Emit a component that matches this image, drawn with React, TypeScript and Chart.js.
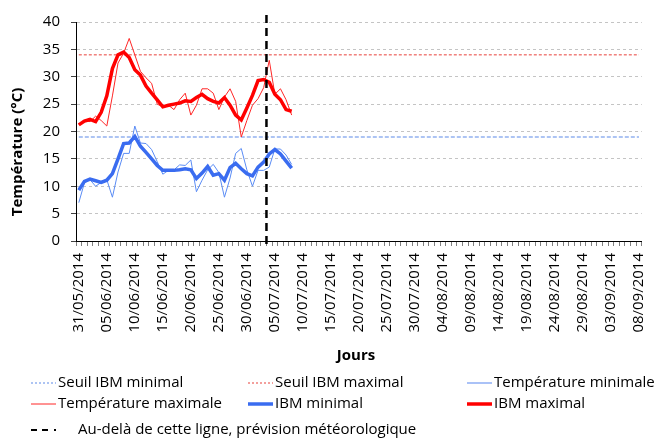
import { useEffect, useRef } from 'react';
import { Chart, registerables } from 'chart.js';

Chart.register(...registerables);

const FONT = "'Open Sans', 'Noto Sans', sans-serif";

// Categories: one per day from 31/05/2014 to 08/09/2014
const FIRST_DAY = '2014-05-31';
const DAY_COUNT = 101;
function makeDayLabels(): string[] {
  const out: string[] = [];
  const d = new Date(FIRST_DAY + 'T12:00:00Z');
  for (let i = 0; i < DAY_COUNT; i++) {
    const dd = String(d.getUTCDate()).padStart(2, '0');
    const mm = String(d.getUTCMonth() + 1).padStart(2, '0');
    out.push(`${dd}/${mm}/${d.getUTCFullYear()}`);
    d.setUTCDate(d.getUTCDate() + 1);
  }
  return out;
}
const DAYS = makeDayLabels();
const LABEL_EVERY = 5;

// Series values (°C), 31/05/2014 -> 08/07/2014
const TEMP_MAX = [
  21.3, 22.0, 21.8, 22.8, 22.0, 21.0, 26.5, 32.5, 34.3, 37.0,
  34.0, 31.0, 29.8, 28.8, 25.0, 24.5, 24.8, 24.0, 25.8, 27.0,
  23.0, 24.8, 27.8, 27.8, 27.0, 24.0, 26.3, 27.8, 25.5, 19.0,
  22.0, 24.8, 26.0, 28.0, 33.0, 26.8, 27.8, 25.8, 23.0,
];
const IBM_MAX = [
  21.2, 21.9, 22.2, 21.8, 23.5, 26.5, 31.5, 34.0, 34.5, 33.5,
  31.3, 30.3, 28.3, 27.0, 25.8, 24.5, 24.8, 25.0, 25.2, 25.6,
  25.5, 26.2, 26.8, 26.0, 25.5, 25.2, 26.2, 24.8, 23.0, 22.1,
  24.3, 26.6, 29.3, 29.5, 29.0, 26.8, 25.8, 24.0, 23.7,
];
const TEMP_MIN = [
  7.0, 10.6, 11.2, 10.0, 10.7, 11.2, 8.0, 12.6, 16.0, 16.0,
  21.0, 17.9, 17.8, 16.7, 14.5, 12.2, 12.9, 13.0, 13.9, 13.8,
  14.8, 9.0, 11.1, 13.0, 14.0, 12.5, 8.0, 11.5, 16.0, 16.9,
  13.0, 10.0, 12.9, 12.9, 13.5, 16.8, 16.8, 15.7, 14.0,
];
const IBM_MIN = [
  9.3, 10.9, 11.3, 11.0, 10.7, 11.1, 12.3, 15.0, 17.8, 17.9,
  19.1, 17.3, 16.2, 15.0, 13.8, 12.9, 12.9, 12.9, 13.0, 13.2,
  13.0, 11.4, 12.4, 13.6, 12.0, 12.3, 11.1, 13.4, 14.2, 13.2,
  12.3, 11.9, 13.5, 14.4, 15.9, 16.7, 15.9, 14.6, 13.3,
];
const SEUIL_MIN = 19;
const SEUIL_MAX = 34;
const FORECAST_FROM = '04/07/2014';

const Y_MIN = 0;
const Y_MAX = 40;
const Y_STEP = 5;

const C_SEUIL_MIN = '#92b1f0';
const C_SEUIL_MAX = '#e8403a';
const C_TMIN = '#5a8cf5';
const C_TMAX = '#ff2626';
const C_IBM_MIN = '#3a6cf0';
const C_IBM_MAX = '#ff0000';

type LegendItem = { label: string; color: string; width: number; dash: number[]; x: number; y: number };
const LEGEND: LegendItem[] = [
  { label: 'Seuil IBM minimal', color: C_SEUIL_MIN, width: 1.5, dash: [2, 2], x: 31, y: 383 },
  { label: 'Seuil IBM maximal', color: C_SEUIL_MAX, width: 1, dash: [2, 2], x: 248, y: 383 },
  { label: 'Température minimale', color: '#8eaef5', width: 1.5, dash: [], x: 467, y: 383 },
  { label: 'Température maximale', color: C_TMAX, width: 1, dash: [], x: 31, y: 404 },
  { label: 'IBM minimal', color: C_IBM_MIN, width: 3.5, dash: [], x: 248, y: 404 },
  { label: 'IBM maximal', color: C_IBM_MAX, width: 3.5, dash: [], x: 467, y: 404 },
];

const decor = {
  id: 'decor',
  afterDatasetsDraw(chart: any) {
    const { ctx, chartArea, scales } = chart;
    const idx = DAYS.indexOf(FORECAST_FROM) - 0.5;
    const x = scales.x.getPixelForValue(idx);
    ctx.save();
    ctx.strokeStyle = '#000';
    ctx.lineWidth = 2.5;
    ctx.setLineDash([8, 5]);
    ctx.beginPath();
    ctx.moveTo(x, chartArea.top - 7);
    ctx.lineTo(x, chartArea.bottom + 8);
    ctx.stroke();
    ctx.restore();
  },
  afterDraw(chart: any) {
    const { ctx, chartArea } = chart;
    ctx.save();
    ctx.fillStyle = '#000';
    // axis titles
    ctx.font = `bold 15px ${FONT}`;
    ctx.textAlign = 'center';
    ctx.textBaseline = 'middle';
    ctx.fillText('Jours', 356, 356);
    ctx.save();
    ctx.translate(18, 152);
    ctx.rotate(-Math.PI / 2);
    ctx.fillText('Température (°C)', 0, 0);
    ctx.restore();
    // legend
    ctx.font = `15px ${FONT}`;
    ctx.textAlign = 'left';
    for (const it of LEGEND) {
      ctx.save();
      ctx.strokeStyle = it.color;
      ctx.lineWidth = it.width;
      ctx.setLineDash(it.dash);
      ctx.beginPath();
      ctx.moveTo(it.x, it.y);
      ctx.lineTo(it.x + 25, it.y);
      ctx.stroke();
      ctx.restore();
      ctx.fillText(it.label, it.x + 27, it.y);
    }
    // forecast note
    ctx.save();
    ctx.strokeStyle = '#000';
    ctx.lineWidth = 2;
    ctx.beginPath();
    ctx.moveTo(31, 430); ctx.lineTo(37, 430);
    ctx.moveTo(42, 430); ctx.lineTo(48, 430);
    ctx.moveTo(54, 430); ctx.lineTo(56, 430);
    ctx.stroke();
    ctx.restore();
    ctx.fillText('Au-delà de cette ligne, prévision météorologique', 78, 430);
    ctx.restore();
    void chartArea;
  },
};

export default function App() {
  const ref = useRef<HTMLCanvasElement>(null);
  useEffect(() => {
    document.body.style.margin = '0';
    const canvas = ref.current!;
    const chart = new Chart(canvas, {
      type: 'line',
      data: {
        labels: DAYS,
        datasets: [
          { label: 'Seuil IBM minimal', data: [{ x: DAYS[0], y: SEUIL_MIN }, { x: DAYS[DAYS.length - 1], y: SEUIL_MIN }] as any, borderColor: C_SEUIL_MIN, borderWidth: 1.5, borderDash: [4, 2], order: 6 },
          { label: 'Seuil IBM maximal', data: [{ x: DAYS[0], y: SEUIL_MAX }, { x: DAYS[DAYS.length - 1], y: SEUIL_MAX }] as any, borderColor: C_SEUIL_MAX, borderWidth: 1, borderDash: [3, 2], order: 5 },
          { label: 'Température minimale', data: TEMP_MIN, borderColor: C_TMIN, borderWidth: 1, order: 4 },
          { label: 'Température maximale', data: TEMP_MAX, borderColor: C_TMAX, borderWidth: 1, order: 3 },
          { label: 'IBM minimal', data: IBM_MIN, borderColor: C_IBM_MIN, borderWidth: 3.5, order: 2 },
          { label: 'IBM maximal', data: IBM_MAX, borderColor: C_IBM_MAX, borderWidth: 3.5, order: 1 },
        ],
      },
      options: {
        responsive: false,
        maintainAspectRatio: false,
        animation: false,
        layout: { padding: { left: 0, top: 22, right: 5, bottom: 0 } },
        elements: { point: { radius: 0, hoverRadius: 0 }, line: { tension: 0, fill: false } },
        plugins: { legend: { display: false }, tooltip: { enabled: false }, title: { display: false } },
        scales: {
          x: {
            type: 'category',
            offset: true,
            grid: { display: true, drawOnChartArea: false, drawTicks: true, tickLength: 5, offset: true, color: '#808080', tickColor: '#808080' },
            border: { display: true, color: '#000', width: 1 },
            ticks: {
              autoSkip: false,
              minRotation: 90,
              maxRotation: 90,
              padding: 7,
              color: '#000',
              font: { size: 15, family: FONT },
              callback: (_v: any, i: number) => (i % LABEL_EVERY === 0 ? DAYS[i] : ''),
            },
            afterFit: (s: any) => { s.height = 200; },
          },
          y: {
            min: Y_MIN,
            max: Y_MAX,
            ticks: { stepSize: Y_STEP, padding: 11, color: '#000', font: { size: 15, family: FONT } },
            grid: { color: '#c4c4c4', tickColor: '#404040', tickLength: 5, lineWidth: 1 },
            border: { display: true, color: '#000', width: 1, dash: [3, 3] },
            afterFit: (s: any) => { s.width = 76; },
          },
        },
      } as any,
      plugins: [decor],
    });
    return () => chart.destroy();
  }, []);
  return (
    <div style={{ width: 664, height: 441, position: 'relative' }}>
      <canvas ref={ref} width={664} height={441} style={{ display: 'block', width: 664, height: 441 }} />
    </div>
  );
}
